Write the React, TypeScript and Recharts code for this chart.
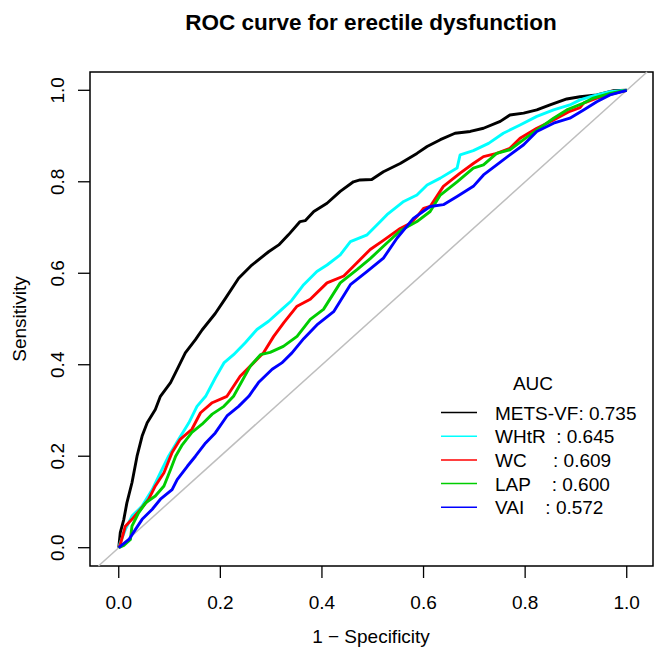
import React from "react";
import { LineChart, Line, XAxis, YAxis, ReferenceLine, ReferenceArea } from "recharts";

// ---- data ----
const metsFpr = [0, 0.003, 0.01, 0.016, 0.026, 0.036, 0.046, 0.056, 0.072, 0.082, 0.102, 0.115, 0.131, 0.151, 0.164, 0.19, 0.21, 0.236, 0.262, 0.295, 0.315, 0.334, 0.357, 0.367, 0.384, 0.41, 0.436, 0.462, 0.475, 0.498, 0.521, 0.554, 0.587, 0.607, 0.633, 0.662, 0.692, 0.718, 0.751, 0.77, 0.797, 0.823, 0.849, 0.882, 0.908, 0.941, 0.974, 1];
const metsTpr = [0, 0.033, 0.062, 0.098, 0.142, 0.2, 0.244, 0.273, 0.302, 0.331, 0.361, 0.39, 0.426, 0.455, 0.476, 0.512, 0.545, 0.589, 0.618, 0.647, 0.662, 0.684, 0.713, 0.715, 0.735, 0.753, 0.779, 0.8, 0.804, 0.805, 0.822, 0.84, 0.862, 0.877, 0.892, 0.906, 0.91, 0.917, 0.932, 0.946, 0.95, 0.957, 0.968, 0.981, 0.986, 0.99, 0.999, 1];

const whtrFpr = [0, 0.003, 0.013, 0.026, 0.046, 0.066, 0.082, 0.098, 0.118, 0.138, 0.154, 0.171, 0.19, 0.207, 0.226, 0.249, 0.272, 0.295, 0.321, 0.34, 0.364, 0.39, 0.41, 0.436, 0.456, 0.489, 0.515, 0.528, 0.561, 0.587, 0.607, 0.633, 0.666, 0.672, 0.698, 0.728, 0.757, 0.79, 0.823, 0.856, 0.888, 0.908, 0.934, 0.967, 1];
const whtrTpr = [0, 0.011, 0.04, 0.069, 0.091, 0.127, 0.164, 0.2, 0.237, 0.273, 0.309, 0.331, 0.371, 0.404, 0.422, 0.448, 0.477, 0.495, 0.521, 0.54, 0.575, 0.604, 0.618, 0.64, 0.669, 0.684, 0.713, 0.728, 0.757, 0.771, 0.793, 0.808, 0.83, 0.859, 0.868, 0.884, 0.906, 0.924, 0.943, 0.957, 0.968, 0.979, 0.988, 0.997, 1];

const wcFpr = [0, 0.003, 0.013, 0.026, 0.043, 0.059, 0.072, 0.089, 0.105, 0.121, 0.144, 0.161, 0.184, 0.213, 0.239, 0.259, 0.285, 0.305, 0.325, 0.351, 0.377, 0.41, 0.443, 0.469, 0.495, 0.521, 0.554, 0.574, 0.587, 0.6, 0.613, 0.639, 0.672, 0.698, 0.718, 0.744, 0.77, 0.79, 0.823, 0.856, 0.888, 0.908, 0.915, 0.941, 0.974, 1];
const wcTpr = [0, 0.007, 0.047, 0.062, 0.084, 0.106, 0.135, 0.164, 0.208, 0.237, 0.259, 0.295, 0.317, 0.331, 0.375, 0.397, 0.426, 0.462, 0.492, 0.528, 0.543, 0.579, 0.594, 0.623, 0.652, 0.672, 0.698, 0.709, 0.724, 0.742, 0.746, 0.79, 0.819, 0.84, 0.855, 0.862, 0.873, 0.895, 0.917, 0.935, 0.954, 0.962, 0.972, 0.983, 0.993, 1];

const lapFpr = [0, 0.01, 0.023, 0.026, 0.039, 0.053, 0.072, 0.089, 0.102, 0.112, 0.125, 0.144, 0.164, 0.184, 0.207, 0.226, 0.259, 0.279, 0.298, 0.324, 0.351, 0.377, 0.403, 0.436, 0.469, 0.495, 0.521, 0.554, 0.587, 0.613, 0.633, 0.666, 0.698, 0.718, 0.744, 0.77, 0.797, 0.823, 0.856, 0.882, 0.915, 0.934, 0.967, 1];
const lapTpr = [0, 0.005, 0.018, 0.047, 0.076, 0.098, 0.113, 0.135, 0.171, 0.2, 0.225, 0.252, 0.27, 0.292, 0.309, 0.331, 0.397, 0.422, 0.427, 0.44, 0.462, 0.499, 0.521, 0.579, 0.608, 0.632, 0.659, 0.693, 0.713, 0.735, 0.771, 0.8, 0.83, 0.837, 0.862, 0.87, 0.892, 0.913, 0.939, 0.957, 0.972, 0.983, 0.993, 1];

const vaiFpr = [0, 0.003, 0.02, 0.033, 0.046, 0.066, 0.082, 0.105, 0.115, 0.135, 0.151, 0.171, 0.19, 0.213, 0.236, 0.256, 0.275, 0.302, 0.321, 0.341, 0.364, 0.39, 0.423, 0.456, 0.489, 0.521, 0.548, 0.58, 0.613, 0.639, 0.666, 0.698, 0.718, 0.744, 0.77, 0.797, 0.823, 0.856, 0.888, 0.915, 0.941, 0.967, 1];
const vaiTpr = [0, 0.003, 0.018, 0.04, 0.062, 0.084, 0.106, 0.127, 0.149, 0.178, 0.2, 0.229, 0.251, 0.288, 0.309, 0.331, 0.361, 0.39, 0.404, 0.426, 0.457, 0.487, 0.516, 0.575, 0.604, 0.633, 0.677, 0.72, 0.746, 0.75, 0.768, 0.79, 0.815, 0.837, 0.859, 0.881, 0.91, 0.928, 0.939, 0.957, 0.975, 0.99, 1];

const seriesNames = ["METS-VF", "WHtR", "WC", "LAP", "VAI"];
const legendLabels = ["METS-VF: 0.735", "WHtR  : 0.645", "WC     : 0.609", "LAP    : 0.600", "VAI    : 0.572"];
const seriesColors = ["#000000", "#00FFFF", "#FF0000", "#00CD00", "#0000FF"];
const tickValues = [0, 0.2, 0.4, 0.6, 0.8, 1.0];
const tickLabels = ["0.0", "0.2", "0.4", "0.6", "0.8", "1.0"];

const titleText = "ROC curve for erectile dysfunction";
const xTitle = "1 \u2212 Specificity";
const yTitle = "Sensitivity";

const toPoints = (xs: number[], ys: number[]) => xs.map((x, i) => ({ x, y: ys[i] }));
const seriesData = [
  toPoints(metsFpr, metsTpr),
  toPoints(whtrFpr, whtrTpr),
  toPoints(wcFpr, wcTpr),
  toPoints(lapFpr, lapTpr),
  toPoints(vaiFpr, vaiTpr),
];

const FONT = "'Liberation Sans', Arial, Helvetica, sans-serif";
const XMIN = -0.0566;
const XMAX = 1.0517;
const YMIN = -0.04;
const YMAX = 1.04;

const labelFor = (v: number) => {
  const i = tickValues.findIndex((t) => Math.abs(t - v) < 1e-9);
  return i >= 0 ? tickLabels[i] : String(v);
};

const XTick = (props: any) => {
  const { x, payload } = props;
  return (
    <text x={x} y={609} textAnchor="middle" fontSize={19} fontFamily={FONT} fill="#000">
      {labelFor(payload.value)}
    </text>
  );
};

const YTick = (props: any) => {
  const { y, payload } = props;
  const bx = 64;
  return (
    <text x={bx} y={y} transform={`rotate(-90, ${bx}, ${y})`} textAnchor="middle" fontSize={19} fontFamily={FONT} fill="#000">
      {labelFor(payload.value)}
    </text>
  );
};

export default function App() {
  return (
    <div style={{ position: "absolute", left: 0, top: 0, width: 656, height: 647, background: "#fff" }}>
      <LineChart
        width={656}
        height={647}
        margin={{ top: 72, right: 3, bottom: 0, left: 0 }}
        style={{ position: "absolute", left: 0, top: 0 }}
      >
        <XAxis
          type="number"
          dataKey="x"
          domain={[XMIN, XMAX]}
          ticks={tickValues}
          allowDataOverflow
          height={81}
          tickSize={12}
          axisLine={false}
          tickLine={{ stroke: "#000", strokeWidth: 1.3 }}
          tick={<XTick />}
          interval={0}
        />
        <YAxis
          type="number"
          dataKey="y"
          domain={[YMIN, YMAX]}
          ticks={tickValues}
          allowDataOverflow
          width={90}
          tickSize={12}
          axisLine={false}
          tickLine={{ stroke: "#000", strokeWidth: 1.3 }}
          tick={<YTick />}
          interval={0}
        />
        <ReferenceLine
          segment={[{ x: YMIN, y: YMIN }, { x: YMAX, y: YMAX }]}
          stroke="#BEBEBE"
          strokeWidth={1.5}
          ifOverflow="visible"
        />
        {seriesData.map((d, i) => (
          <Line
            key={seriesNames[i]}
            data={d}
            dataKey="y"
            name={seriesNames[i]}
            type="linear"
            stroke={seriesColors[i]}
            strokeWidth={2.9}
            strokeLinejoin="round"
            dot={false}
            activeDot={false}
            isAnimationActive={false}
          />
        ))}
        <ReferenceArea
          x1={XMIN}
          x2={XMAX}
          y1={YMIN}
          y2={YMAX}
          fill="none"
          fillOpacity={0}
          stroke="#000"
          strokeWidth={1.5}
          ifOverflow="visible"
        />
      </LineChart>
      <svg
        width={656}
        height={647}
        style={{ position: "absolute", left: 0, top: 0, pointerEvents: "none" }}
      >
        <text x={371} y={30} textAnchor="middle" fontSize={22.5} fontWeight="bold" fontFamily={FONT} fill="#000">
          {titleText}
        </text>
        <text x={371} y={643} textAnchor="middle" fontSize={19} fontFamily={FONT} fill="#000">
          {xTitle}
        </text>
        <text x={26} y={319} transform="rotate(-90, 26, 319)" textAnchor="middle" fontSize={19} fontFamily={FONT} fill="#000">
          {yTitle}
        </text>
        <text x={533} y={390} textAnchor="middle" fontSize={19} fontFamily={FONT} fill="#000">
          AUC
        </text>
        {legendLabels.map((lab, i) => {
          const cy = 412.5 + i * 23.7;
          return (
            <g key={lab}>
              <line x1={441} x2={477} y1={cy} y2={cy} stroke={seriesColors[i]} strokeWidth={1.5} />
              <text x={495} y={cy + 7} fontSize={19} fontFamily={FONT} fill="#000" style={{ whiteSpace: "pre" }}>
                {lab}
              </text>
            </g>
          );
        })}
      </svg>
    </div>
  );
}
